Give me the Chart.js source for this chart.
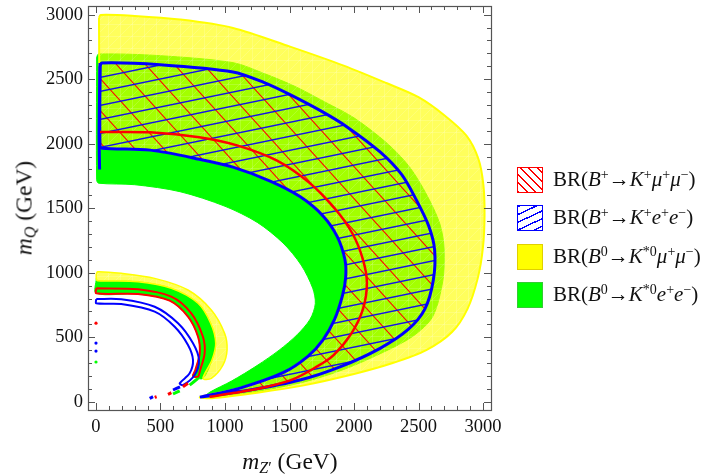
<!DOCTYPE html>
<html>
<head>
<meta charset="utf-8">
<script src="https://cdn.jsdelivr.net/npm/chart.js@4.4.1/dist/chart.umd.min.js"></script>
<style>
  body { margin: 0; background: #fff; }
  #wrap { position: relative; width: 704px; height: 475px; font-family: "Liberation Serif", "DejaVu Serif", serif; color: #111; }
  canvas { position: absolute; left: 0; top: 0; }
  .ttl { position: absolute; font-size: 23.5px; white-space: nowrap; transform: translate(-50%, -50%); }
  .ttl sub { font-size: 16px; vertical-align: -4px; line-height: 0; }
  #ytitle { left: 24px; top: 208px; transform: translate(-50%, -50%) rotate(-90deg); }
  #xtitle { left: 290px; top: 461px; }
  .row { position: absolute; left: 517px; height: 27px; display: flex; align-items: center; font-size: 21px; white-space: nowrap; }
  .sw { width: 26px; height: 26px; margin-right: 10px; box-sizing: border-box; }
  .row sup { font-size: 14px; vertical-align: 7px; line-height: 0; }
</style>
</head>
<body>
<div id="wrap">
  <canvas id="chart" width="704" height="475"></canvas>
  <div class="ttl" id="ytitle"><i>m</i><sub><i>Q</i></sub> (GeV)</div>
  <div class="ttl" id="xtitle"><i>m</i><sub><i>Z</i>′</sub> (GeV)</div>
  <div id="legend"></div>
</div>
<script>
// axis ticks
const xMajor = [0, 500, 1000, 1500, 2000, 2500, 3000];
const yMajor = [0, 500, 1000, 1500, 2000, 2500, 3000];

// legend entries
const legendLabels = [
    'BR(<i>B</i><sup>+</sup>→<i>K</i><sup>+</sup><i>μ</i><sup>+</sup><i>μ</i><sup>−</sup>)',
    'BR(<i>B</i><sup>+</sup>→<i>K</i><sup>+</sup><i>e</i><sup>+</sup><i>e</i><sup>−</sup>)',
    'BR(<i>B</i><sup>0</sup>→<i>K</i><sup>*0</sup><i>μ</i><sup>+</sup><i>μ</i><sup>−</sup>)',
    'BR(<i>B</i><sup>0</sup>→<i>K</i><sup>*0</sup><i>e</i><sup>+</sup><i>e</i><sup>−</sup>)'
];

// big allowed band, boundaries (m_Z', m_Q)
const bigYellowOuter = [[23,2975],[35,2998],[300,2990],[651,2962],[1062,2897],[1504,2752],[1920,2605],[2250,2470],[2500,2360],[2700,2220],[2873,2060],[2965,1880],[3003,1680],[3012,1450],[3000,1200],[2960,960],[2880,720],[2760,540],[2560,400],[2300,300],[2000,215],[1600,125],[1250,70],[900,28]];
const bigGreenOuter = [[5,2670],[20,2695],[496,2682],[1062,2628],[1300,2545],[1540,2445],[1780,2320],[2000,2200],[2260,2000],[2430,1820],[2560,1610],[2665,1380],[2700,1176],[2688,935],[2610,660],[2460,510],[2230,385],[1920,250],[1600,150],[1200,72],[830,28]];
const bigGreenInner = [[5,1720],[20,1694],[300,1682],[651,1628],[1000,1515],[1250,1390],[1450,1230],[1590,1060],[1680,880],[1700,760],[1660,640],[1560,520],[1420,400],[1248,280],[1050,160],[884,75],[830,30]];
const bigBlueOuter = [[31,2600],[45,2626],[496,2612],[1062,2556],[1300,2475],[1504,2380],[1750,2250],[1946,2130],[2202,1936],[2370,1760],[2480,1570],[2580,1360],[2625,1176],[2615,943],[2550,720],[2420,560],[2202,414],[1891,270],[1581,168],[1194,91],[806,36]];
const bigBlueInner = [[31,1990],[45,1965],[420,1950],[800,1880],[1062,1818],[1350,1710],[1581,1590],[1760,1440],[1870,1280],[1930,1100],[1935,960],[1910,820],[1850,640],[1760,480],[1640,350],[1450,225],[1116,106],[806,36]];
const bigRedLine = [[31,2091],[420,2088],[800,2050],[1100,1985],[1400,1870],[1650,1700],[1850,1500],[1990,1300],[2070,1100],[2100,920],[2070,720],[1980,530],[1840,360],[1700,265],[1530,175],[1300,110],[1062,67],[880,38]];
const bigBlueLeft = [[31,2626],[28,2400],[24,2100],[26,1900],[28,1800]];

// small band near the origin
const smallYellowOuter = [[2,990],[12,1008],[196,995],[455,956],[713,866],[894,711],[997,530],[1016,401],[984,284],[894,181]];
const smallYellowInner = [[2,955],[12,938],[326,930],[584,879],[791,763],[889,608],[928,453],[899,323],[829,181]];
const smallRedOuter = [[2,879],[326,871],[584,814],[739,685],[829,504],[842,375],[804,233],[791,194]];
const smallRedInner = [[2,840],[326,835],[571,783],[713,659],[791,504],[804,375],[770,246],[752,199]];
const smallBlueOuter = [[2,796],[196,794],[455,736],[636,608],[752,453],[798,323],[765,207],[674,129]];
const smallBlueInner = [[2,763],[196,757],[455,698],[610,581],[713,440],[752,323],[726,220],[649,143]];

// isolated fragments at the bottom and along the left edge
const blueBits = [[[416,26],[442,39]], [[597,91],[651,116]]];
const redBits = [[[455,34],[470,39]], [[558,57],[584,70]], [[674,116],[713,143]]];
const greenBits = [[[597,60],[649,85]], [[726,129],[791,181]]];
const redDots = [[0,609]];
const blueDots = [[0,455],[0,393]];
const greenDots = [[0,308]];

const FONT = '"Liberation Serif", "DejaVu Serif", serif';
const RED = 'rgb(255,0,0)';
const BLUE = 'rgb(0,0,255)';
const GREEN = 'rgb(0,255,0)';
const YELLOW = 'rgb(255,255,0)';

function pts(arr) {
    return arr.map(p => ({x: p[0], y: p[1]}));
}
function ring(outer, inner) {
    const path = outer.concat(inner.slice().reverse());
    path.push(outer[0]);
    return pts(path);
}

// hatch pattern: one line across a w x h tile, corner to corner
function hatch(color, w, h, rising, lw) {
    const c = document.createElement('canvas');
    c.width = w; c.height = h;
    const g = c.getContext('2d');
    g.strokeStyle = color;
    g.lineWidth = lw;
    for (const dx of [-w, 0, w]) {
        for (const dy of [-h, 0, h]) {
            g.beginPath();
            if (rising) {
                g.moveTo(dx, dy + h); g.lineTo(dx + w, dy);
            } else {
                g.moveTo(dx, dy); g.lineTo(dx + w, dy + h);
            }
            g.stroke();
        }
    }
    return g.createPattern(c, 'repeat');
}
const redHatch = hatch(RED, 29, 32, false, 1.1);
const blueHatch = hatch('rgb(20,20,230)', 68, 14, true, 1.4);

// translucent yellow with the faint white plotting mesh
function meshYellow() {
    const c = document.createElement('canvas');
    c.width = 12; c.height = 12;
    const g = c.getContext('2d');
    g.fillStyle = 'rgba(255,255,0,0.64)';
    g.fillRect(0, 0, 12, 12);
    g.strokeStyle = 'rgba(255,255,255,0.16)';
    g.lineWidth = 1;
    g.beginPath();
    g.moveTo(0.5, 0); g.lineTo(0.5, 12);
    g.moveTo(0, 0.5); g.lineTo(12, 0.5);
    g.moveTo(0, 12); g.lineTo(12, 0);
    g.stroke();
    return g.createPattern(c, 'repeat');
}
const yellowFill = meshYellow();

function region(data, fillColor, line, width, order) {
    return {
        data: data, fill: fillColor ? 'shape' : false, backgroundColor: fillColor || 'transparent',
        borderColor: line || 'transparent', borderWidth: line ? width : 0,
        tension: 0.3, pointRadius: 0, order: order
    };
}
function curve(arr, color, width, order) {
    return {data: pts(arr), fill: false, borderColor: color, borderWidth: width, tension: 0.3, pointRadius: 0, order: order};
}
function dots(arr, color) {
    return {data: pts(arr), showLine: false, pointRadius: 1.6, pointBackgroundColor: color, pointBorderWidth: 0, order: 0};
}

const datasets = [
    region(ring(bigGreenOuter, bigGreenInner), GREEN, GREEN, 1, 20),
    region(ring(smallYellowInner, smallRedInner), GREEN, GREEN, 1, 19),
    region(ring(bigYellowOuter, bigBlueInner), yellowFill, YELLOW, 2, 18),
    region(ring(smallYellowOuter, smallYellowInner), yellowFill, YELLOW, 1.5, 17),
    region(ring(bigBlueOuter, bigBlueInner), redHatch, null, 0, 16),
    region(ring(bigBlueOuter, bigBlueInner), blueHatch, null, 0, 15),
    region(ring(bigBlueOuter, bigBlueInner), null, BLUE, 3, 10),
    curve(bigBlueLeft, BLUE, 3, 9),
    curve(bigRedLine, RED, 2.5, 8),
    region(ring(smallRedOuter, smallRedInner), null, RED, 2, 7),
    region(ring(smallBlueOuter, smallBlueInner), null, BLUE, 2, 6)
];
blueBits.forEach(b => datasets.push(curve(b, BLUE, 3, 1)));
redBits.forEach(b => datasets.push(curve(b, RED, 3, 1)));
greenBits.forEach(b => datasets.push(curve(b, GREEN, 3, 1)));
datasets.push(dots(redDots, RED), dots(blueDots, BLUE), dots(greenDots, GREEN));

// inward ticks on all four sides plus the frame
const frameTicks = {
    id: 'frameTicks',
    afterDatasetsDraw(chart) {
        const {ctx, chartArea: a, scales: {x, y}} = chart;
        ctx.save();
        ctx.strokeStyle = '#555';
        ctx.lineWidth = 1;
        ctx.beginPath();
        for (let v = 0; v <= 3000; v += 100) {
            const len = v % 500 === 0 ? 7 : 4;
            const px = Math.round(x.getPixelForValue(v)) + 0.5;
            const py = Math.round(y.getPixelForValue(v)) + 0.5;
            ctx.moveTo(px, a.bottom); ctx.lineTo(px, a.bottom - len);
            ctx.moveTo(px, a.top); ctx.lineTo(px, a.top + len);
            ctx.moveTo(a.left, py); ctx.lineTo(a.left + len, py);
            ctx.moveTo(a.right, py); ctx.lineTo(a.right - len, py);
        }
        ctx.stroke();
        ctx.lineWidth = 1.2;
        ctx.strokeRect(a.left + 0.5, a.top + 0.5, a.right - a.left, a.bottom - a.top);
        ctx.restore();
    }
};

new Chart(document.getElementById('chart'), {
    type: 'line',
    data: {datasets: datasets},
    options: {
        responsive: false,
        animation: false,
        layout: {padding: {left: 0, right: 213, top: 6, bottom: 0}},
        plugins: {legend: {display: false}, tooltip: {enabled: false}},
        scales: {
            x: {
                type: 'linear', min: -62, max: 3062,
                afterBuildTicks: s => { s.ticks = xMajor.map(v => ({value: v})); },
                afterFit: s => { s.height = 65; s.paddingLeft = 0; s.paddingRight = 0; },
                grid: {display: false, drawTicks: false},
                border: {display: false},
                ticks: {font: {family: FONT, size: 18.5}, color: '#111', padding: 6, maxRotation: 0, callback: v => String(v)}
            },
            y: {
                type: 'linear', min: -64, max: 3067,
                afterBuildTicks: s => { s.ticks = yMajor.map(v => ({value: v})); },
                afterFit: s => { s.width = 88; s.paddingTop = 0; s.paddingBottom = 0; },
                grid: {display: false, drawTicks: false},
                border: {display: false},
                ticks: {font: {family: FONT, size: 18.5}, color: '#111', padding: 5, callback: v => String(v)}
            }
        }
    },
    plugins: [frameTicks]
});

// html legend with hatched / solid swatches
const swatches = [
    'background: #fff repeating-linear-gradient(45deg, #f00 0 1.2px, transparent 1.2px 6px); border: 1.5px solid #f00;',
    'background: #fff repeating-linear-gradient(155deg, #00f 0 1.4px, transparent 1.4px 7px); border: 1.5px solid #00f;',
    'background: #ff0; border: 1px solid #e0d000;',
    'background: #0f0; border: 1px solid #3c3;'
];
const rowTops = [166, 204, 243, 281];
const legend = document.getElementById('legend');
legendLabels.forEach((txt, i) => {
    const row = document.createElement('div');
    row.className = 'row';
    row.style.top = rowTops[i] + 'px';
    row.innerHTML = '<span class="sw" style="' + swatches[i] + '"></span><span>' + txt + '</span>';
    legend.appendChild(row);
});
</script>
</body>
</html>
